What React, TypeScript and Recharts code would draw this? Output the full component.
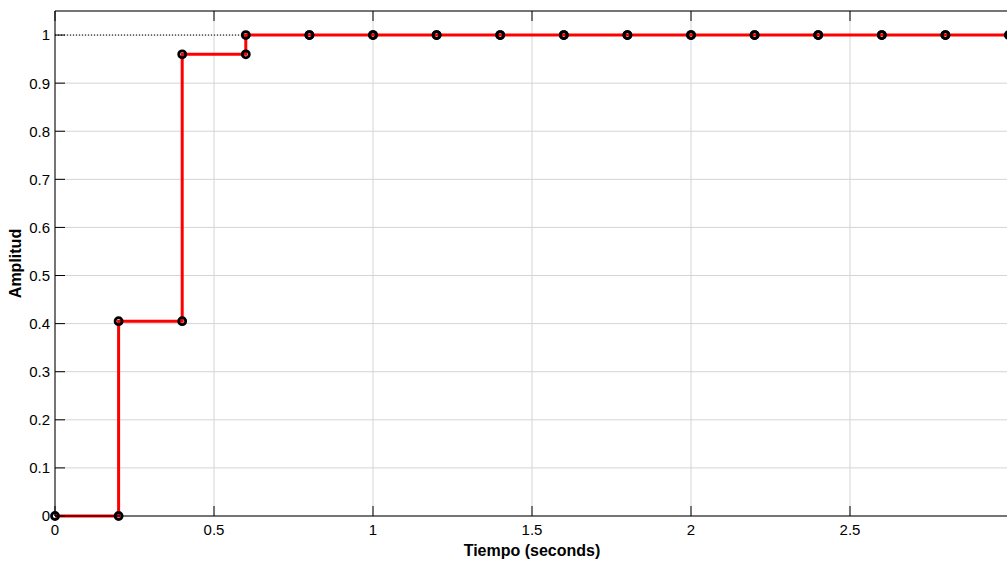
import React from 'react';
import { LineChart, Line, XAxis, YAxis, CartesianGrid, ReferenceLine } from 'recharts';

const timeSamples = [0, 0.2, 0.4, 0.6, 0.8, 1.0, 1.2, 1.4, 1.6, 1.8, 2.0, 2.2, 2.4, 2.6, 2.8, 3.0];
const amplitudeSamples = [0, 0.405, 0.96, 1, 1, 1, 1, 1, 1, 1, 1, 1, 1, 1, 1, 1];
const xTicks = [0, 0.5, 1, 1.5, 2, 2.5];
const xTickLabels = ['0', '0.5', '1', '1.5', '2', '2.5'];
const yTicks = [0, 0.1, 0.2, 0.3, 0.4, 0.5, 0.6, 0.7, 0.8, 0.9, 1];
const yTickLabels = ['0', '0.1', '0.2', '0.3', '0.4', '0.5', '0.6', '0.7', '0.8', '0.9', '1'];
const steadyStateValue = 1;
const xLabel = 'Tiempo (seconds)';
const yLabel = 'Amplitud';

// staircase vertices built from the samples (zero-order hold)
const stairData: { t: number; y: number }[] = [];
timeSamples.forEach((t, i) => {
  stairData.push({ t, y: amplitudeSamples[i] });
  if (i + 1 < timeSamples.length) stairData.push({ t: timeSamples[i + 1], y: amplitudeSamples[i] });
});

const FONT = '"Liberation Sans", Arial, Helvetica, sans-serif';
const TICK_LEN = 10;
const X_MARGIN = 8;
const Y_MARGIN = 5;

const labelFor = (ticks: number[], labels: string[], v: number) => {
  const idx = ticks.findIndex((t) => Math.abs(t - v) < 1e-9);
  return idx >= 0 ? labels[idx] : String(v);
};

const YTick = (props: any) => {
  const { x, y, payload } = props;
  return (
    <g>
      <line x1={x + Y_MARGIN} x2={x + Y_MARGIN + TICK_LEN} y1={y} y2={y} stroke="#000" strokeWidth={1} />
      <text x={x} y={y} dy="0.36em" textAnchor="end" fontSize={15} fontFamily={FONT} fill="#000">
        {labelFor(yTicks, yTickLabels, payload.value)}
      </text>
    </g>
  );
};

const XTick = (props: any) => {
  const { x, y, payload } = props;
  return (
    <g>
      <line x1={x} x2={x} y1={y - X_MARGIN} y2={y - X_MARGIN - TICK_LEN} stroke="#000" strokeWidth={1} />
      <text x={x} y={y} dy="0.71em" textAnchor="middle" fontSize={15} fontFamily={FONT} fill="#000">
        {labelFor(xTicks, xTickLabels, payload.value)}
      </text>
    </g>
  );
};

const TopTick = (props: any) => {
  const { x, y } = props;
  return <line x1={x} x2={x} y1={y} y2={y + TICK_LEN} stroke="#000" strokeWidth={1} />;
};

export default function App() {
  return (
    <div style={{ position: 'fixed', left: 0, top: 0, width: 1007, height: 561, overflow: 'hidden', background: '#fff' }}>
      <LineChart width={1009} height={561} data={stairData} margin={{ top: 0, right: 0, bottom: 0, left: 0 }}>
        <CartesianGrid stroke="#d4d4d4" strokeWidth={1} />
        <XAxis
          dataKey="t"
          type="number"
          domain={[0, 3]}
          ticks={xTicks}
          height={45}
          tickSize={0}
          tickMargin={X_MARGIN}
          tickLine={false}
          axisLine={{ stroke: '#000', strokeWidth: 1 }}
          tick={<XTick />}
          interval={0}
          label={{ value: xLabel, position: 'insideBottom', offset: 5, style: { fontSize: 16, fontWeight: 'bold', fontFamily: FONT, fill: '#000' } }}
        />
        <XAxis
          xAxisId="top"
          orientation="top"
          dataKey="t"
          type="number"
          domain={[0, 3]}
          ticks={xTicks}
          height={11}
          tickSize={0}
          tickMargin={0}
          tickLine={false}
          axisLine={{ stroke: '#000', strokeWidth: 1 }}
          tick={<TopTick />}
          interval={0}
        />
        <YAxis
          type="number"
          domain={[0, 1.05]}
          ticks={yTicks}
          width={55}
          tickSize={0}
          tickMargin={Y_MARGIN}
          tickLine={false}
          axisLine={{ stroke: '#000', strokeWidth: 1 }}
          tick={<YTick />}
          interval={0}
          label={{ value: yLabel, angle: -90, position: 'insideLeft', offset: 15, style: { textAnchor: 'middle', fontSize: 16, fontWeight: 'bold', fontFamily: FONT, fill: '#000' } }}
        />
        <ReferenceLine y={steadyStateValue} stroke="#000" strokeWidth={1} strokeDasharray="1 2" />
        <Line
          type="linear"
          dataKey="y"
          stroke="#ff0000"
          strokeWidth={3}
          dot={{ r: 3.5, stroke: '#000', strokeWidth: 2.8, fill: 'none' }}
          activeDot={false}
          isAnimationActive={false}
        />
      </LineChart>
    </div>
  );
}
